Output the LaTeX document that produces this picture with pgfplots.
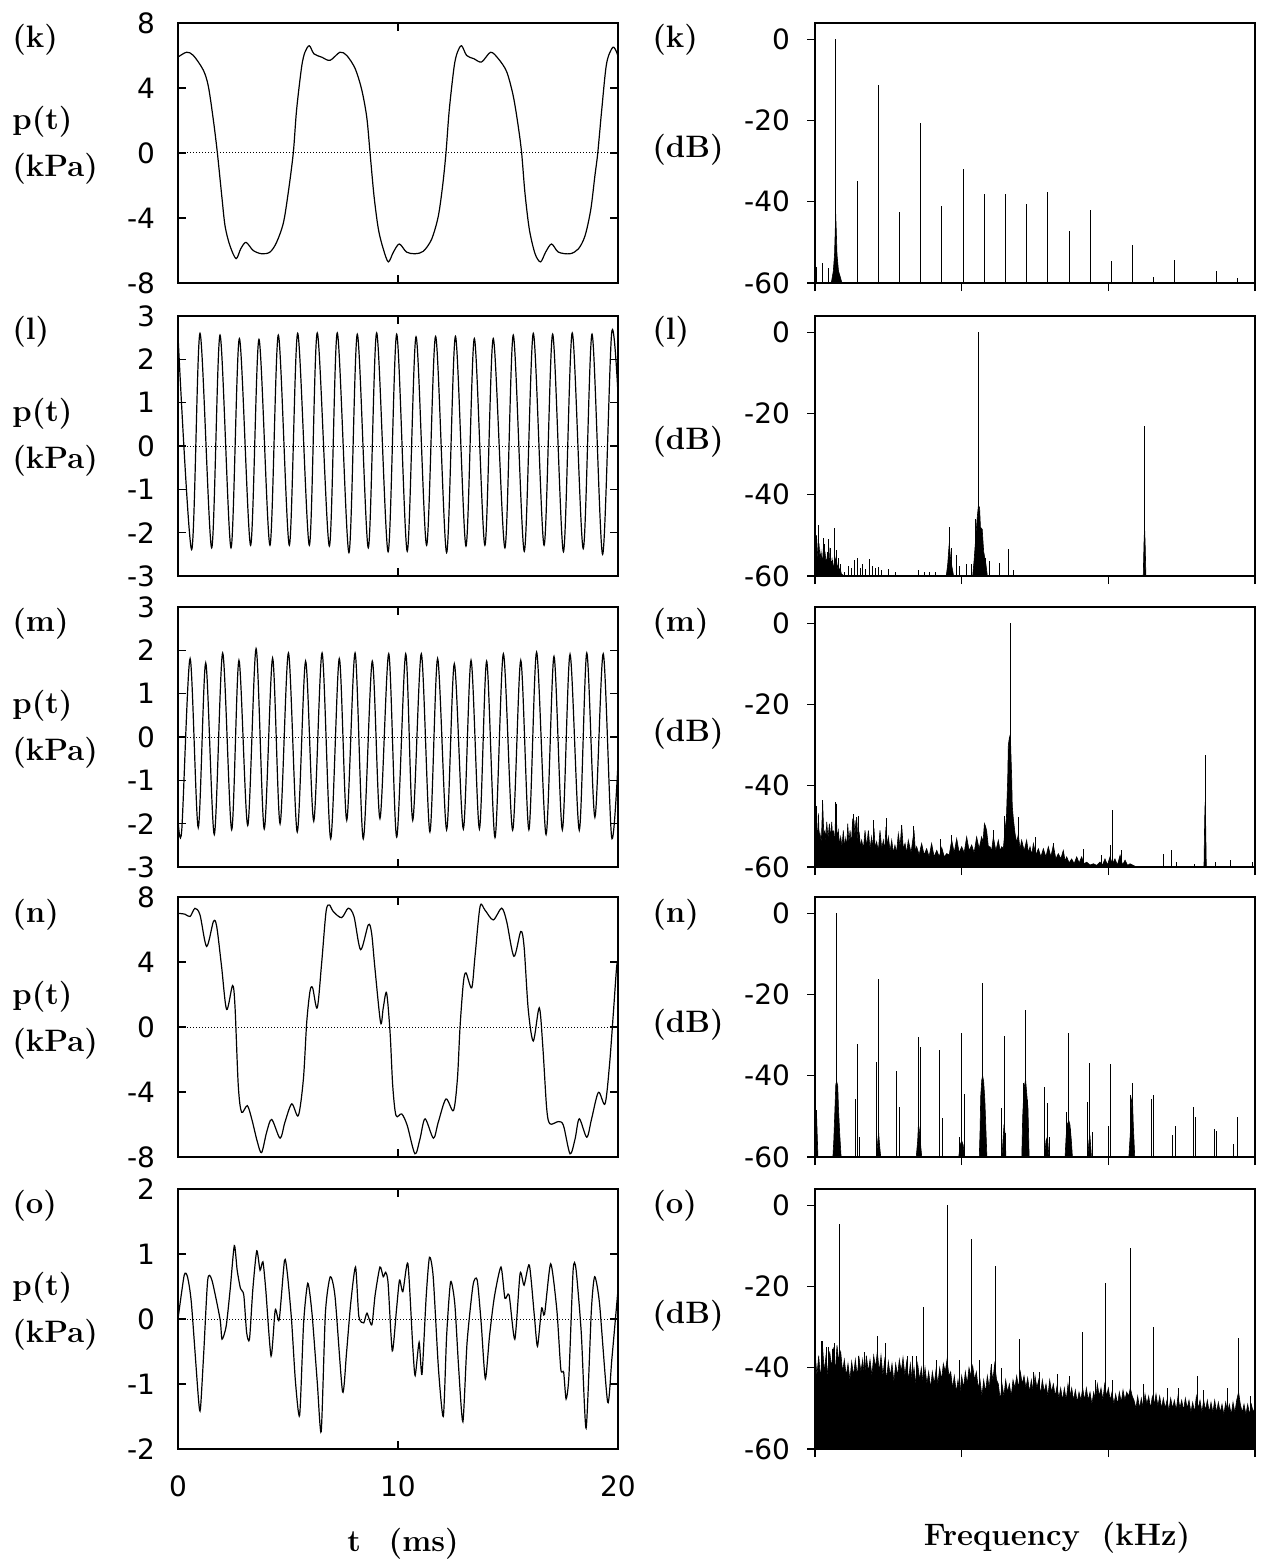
\documentclass[border=0pt]{standalone}
\usepackage{fontspec}
\usepackage{pgfplots}
\pgfplotsset{compat=1.18}
\newfontfamily\dejavu{DejaVu Sans}
\newcommand\tickfont{\dejavu\fontsize{14}{16}\selectfont}
\newcommand\labfont{\bfseries\fontsize{15.5}{18}\selectfont}
\pgfplotsset{
  timeax/.style={anchor=south west, scale only axis, width=220pt, height=130pt,
    xmin=0, xmax=20, xtick={0,10,20}, xticklabels={}, tick align=inside,
    major tick length=4pt, axis line style={line width=0.85pt},
    every tick/.style={black, line width=0.7pt},
    yticklabel style={font=\tickfont}, xticklabel style={font=\tickfont},
    yticklabel shift=8pt, xticklabel shift=10pt, no markers},
  specax/.style={anchor=south west, scale only axis, width=220pt, height=130pt,
    xmin=0, xmax=3, ymin=0, ymax=64, xtick={0,1,2,3}, xticklabels={},
    ytick={0,20,40,60}, yticklabels={-60,-40,-20,0},
    tick align=outside, tick pos=left, major tick length=4pt,
    axis line style={line width=0.85pt}, every tick/.style={black, line width=0.7pt},
    yticklabel style={font=\tickfont}, yticklabel shift=5pt, no markers,
    y filter/.code={\pgfmathparse{##1+60}}},
  wave/.style={black, line width=0.6pt, smooth},
  zero/.style={black, densely dotted, line width=0.5pt},
  comb/.style={black, ycomb, line width=0.5pt},
  thin comb/.style={black, ycomb, line width=0.35pt},
  blk/.style={fill=black, draw=black, line width=0.3pt},
}
\begin{document}
\begin{tikzpicture}
\path (0,0) rectangle (633pt,-781pt);

% ---------------- (k) ----------------
\begin{axis}[timeax, at={(89pt,-141.5pt)}, ymin=-8, ymax=8, ytick={-8,-4,0,4,8}, yticklabels={-8,-4,0,4,8}]
\addplot[zero] coordinates {(0,0) (20,0)};
\addplot[wave] coordinates {(0,5.9)(0.39,6.2)(0.7,6.0)(1.15,5.1)(1.38,4.1)(1.61,2.0)(1.79,0)(1.99,-2.65)(2.14,-4.5)(2.36,-5.7)(2.64,-6.5)(2.85,-5.9)(3.09,-5.5)(3.42,-6.0)(3.8,-6.2)(4.18,-6.1)(4.48,-5.5)(4.79,-4.3)(5.01,-2.45)(5.24,0)(5.39,2.65)(5.62,5.3)(5.77,6.2)(5.97,6.6)(6.18,6.1)(6.53,5.9)(6.91,5.7)(7.36,6.2)(7.67,6.0)(8.05,5.2)(8.35,3.9)(8.58,2.2)(8.73,0)(8.91,-2.65)(9.11,-4.7)(9.33,-5.9)(9.56,-6.7)(9.79,-6.1)(10.06,-5.6)(10.39,-6.1)(10.77,-6.2)(11.15,-6.05)(11.53,-5.3)(11.83,-3.9)(12.03,-2.0)(12.18,0)(12.33,2.65)(12.55,5.3)(12.7,6.2)(12.89,6.6)(13.12,6.0)(13.45,5.8)(13.8,5.6)(14.21,6.2)(14.56,5.8)(14.94,5.0)(15.24,3.5)(15.47,1.6)(15.62,0)(15.77,-2.45)(15.97,-4.7)(16.23,-6.2)(16.48,-6.7)(16.71,-6.1)(16.98,-5.6)(17.29,-6.1)(17.82,-6.2)(18.2,-5.9)(18.5,-5.1)(18.76,-3.5)(18.95,-1.4)(19.08,0)(19.26,2.65)(19.48,5.5)(19.76,6.5)(19.94,6.2)(20,5.9)};
\end{axis}
\begin{axis}[specax, at={(407.5pt,-141.5pt)}]
\addplot[blk] coordinates {(0.111,-60)(0.125,-57)(0.133,-53)(0.138,-47)(0.141,-43)(0.145,-47)(0.15,-53)(0.16,-57)(0.184,-60)} \closedcycle;
\addplot[comb] coordinates {(0.008,-56)(0.054,-55)(0.095,-56.3)(0.141,0)(0.287,-34.8)(0.431,-11.2)(0.577,-42.5)(0.718,-20.5)(0.861,-41.1)(1.010,-32)(1.154,-38)(1.297,-38)(1.443,-40.5)(1.587,-37.7)(1.733,-47.3)(1.877,-42)(2.023,-54.5)(2.166,-50.6)(2.310,-58.5)(2.453,-54.4)(2.735,-57)(2.878,-58.8)};
\end{axis}

% ---------------- (l) ----------------
\begin{axis}[timeax, at={(89pt,-288pt)}, ymin=-3, ymax=3, ytick={-3,-2,-1,0,1,2,3}, yticklabels={-3,-2,-1,0,1,2,3}]
\addplot[zero] coordinates {(0,0) (20,0)};
\addplot[wave] coordinates {(0,2.55)(0.62,-2.39)(1.00,2.60)(1.53,-2.35)(1.91,2.56)(2.41,-2.35)(2.79,2.48)(3.30,-2.29)(3.68,2.46)(4.18,-2.29)(4.56,2.56)(5.06,-2.29)(5.44,2.60)(5.97,-2.29)(6.33,2.61)(6.88,-2.31)(7.24,2.61)(7.77,-2.46)(8.15,2.58)(8.65,-2.35)(9.03,2.61)(9.55,-2.44)(9.94,2.58)(10.42,-2.43)(10.82,2.52)(11.30,-2.29)(11.71,2.53)(12.21,-2.46)(12.61,2.53)(13.09,-2.31)(13.47,2.48)(13.95,-2.29)(14.33,2.48)(14.86,-2.35)(15.24,2.56)(15.74,-2.43)(16.15,2.60)(16.64,-2.29)(17.03,2.58)(17.52,-2.44)(17.92,2.61)(18.42,-2.37)(18.82,2.58)(19.30,-2.50)(19.71,2.60)(20,1.2)};
\end{axis}
\begin{axis}[specax, at={(407.5pt,-288pt)}]
\addplot[blk] coordinates {(0,-53)(0.01,-50)(0.02,-56)(0.027,-52)(0.035,-56)(0.041,-54)(0.05,-57)(0.057,-53)(0.063,-57)(0.068,-54)(0.076,-57)(0.084,-55)(0.09,-57.5)(0.095,-53)(0.1,-57)(0.106,-55)(0.112,-58)(0.117,-56)(0.125,-58.5)(0.135,-55)(0.14,-57.5)(0.144,-55.5)(0.15,-58.5)(0.157,-57)(0.165,-59)(0.171,-58)(0.18,-59.5)(0.2,-60)} \closedcycle;
\addplot[blk] coordinates {(0.895,-60)(0.905,-57)(0.915,-52)(0.925,-56)(0.935,-58)(0.945,-60)} \closedcycle;
\addplot[blk] coordinates {(1.075,-60)(1.085,-56)(1.095,-51)(1.105,-46)(1.113,-43)(1.122,-43)(1.128,-48)(1.14,-48.5)(1.15,-54)(1.165,-57)(1.175,-60)} \closedcycle;
\addplot[blk] coordinates {(2.238,-60)(2.243,-52)(2.247,-48)(2.251,-52)(2.256,-60)} \closedcycle;
\addplot[comb] coordinates {(0.008,-50.6)(0.027,-47.5)(0.041,-55)(0.057,-50.6)(0.068,-52)(0.084,-54)(0.095,-51)(0.106,-53)(0.117,-56)(0.135,-48.2)(0.144,-53.5)(0.157,-55.5)(0.171,-57)(0.198,-59)(0.225,-57.5)(0.247,-58)(0.266,-56)(0.293,-55.5)(0.312,-58)(0.325,-57)(0.347,-58.2)(0.374,-55.8)(0.393,-57.5)(0.415,-58)(0.436,-57.7)(0.455,-58.5)(0.501,-58.3)(0.55,-58.9)(0.705,-58.5)(0.745,-59)(0.78,-59)(0.821,-59)(0.916,-48)(0.93,-53)(0.962,-54.8)(0.984,-57.5)(1.032,-57)(1.065,-57)(1.092,-46)(1.118,0)(1.16,-55.5)(1.187,-56.3)(1.255,-56.7)(1.322,-53.4)(1.35,-58.4)(2.247,-23)};
\end{axis}

% ---------------- (m) ----------------
\begin{axis}[timeax, at={(89pt,-433.5pt)}, ymin=-3, ymax=3, ytick={-3,-2,-1,0,1,2,3}, yticklabels={-3,-2,-1,0,1,2,3}]
\addplot[zero] coordinates {(0,0) (20,0)};
\addplot[wave] coordinates {(0,-1.9)(0.17,-2.15)(0.55,1.81)(0.92,-2.09)(1.26,1.71)(1.65,-2.25)(2.03,1.94)(2.44,-2.14)(2.77,1.77)(3.17,-2.04)(3.55,2.04)(3.92,-2.12)(4.30,1.82)(4.64,-2.0)(5.02,1.94)(5.42,-2.19)(5.80,1.75)(6.17,-1.94)(6.55,1.94)(6.94,-2.35)(7.33,1.81)(7.67,-1.92)(8.05,1.94)(8.42,-2.35)(8.83,1.75)(9.18,-1.88)(9.58,1.92)(9.94,-2.31)(10.35,1.92)(10.67,-1.92)(11.06,1.92)(11.45,-2.19)(11.80,1.81)(12.21,-2.14)(12.56,1.69)(12.97,-2.12)(13.32,1.77)(13.70,-2.12)(14.03,1.75)(14.41,-2.32)(14.79,1.92)(15.21,-2.15)(15.58,1.77)(15.95,-2.14)(16.30,1.96)(16.73,-2.25)(17.09,1.86)(17.47,-2.14)(17.82,1.91)(18.24,-2.15)(18.58,1.94)(18.95,-1.85)(19.33,1.92)(19.71,-2.31)(20,-0.6)};
\end{axis}
\begin{axis}[specax, at={(407.5pt,-433.5pt)}]
\addplot[blk] coordinates {(0,-45.6)(0.006,-52)(0.011,-50.1)(0.017,-53)(0.023,-46.8)(0.029,-53)(0.034,-51.8)(0.043,-54)(0.052,-44)(0.06,-52)(0.068,-51)(0.074,-54)(0.080,-48.9)(0.089,-53)(0.098,-49.3)(0.106,-53)(0.114,-48.9)(0.12,-53)(0.125,-51)(0.134,-54)(0.143,-44.4)(0.151,-53)(0.159,-51)(0.167,-54.5)(0.175,-52.6)(0.184,-55)(0.193,-51)(0.201,-55)(0.209,-53)(0.216,-55.5)(0.223,-49.3)(0.231,-54)(0.239,-51)(0.248,-54.5)(0.257,-48.1)(0.265,-53)(0.273,-48.5)(0.279,-52)(0.284,-47.7)(0.293,-54)(0.302,-51.8)(0.31,-55)(0.318,-53.4)(0.33,-55.5)(0.341,-51)(0.352,-55)(0.364,-51)(0.375,-55.5)(0.386,-52.6)(0.394,-55.5)(0.402,-50.5)(0.411,-55.5)(0.420,-53.8)(0.432,-56)(0.443,-51)(0.455,-55.5)(0.466,-53.4)(0.475,-56)(0.484,-50.1)(0.492,-55)(0.5,-52.6)(0.512,-56)(0.523,-53.4)(0.534,-56.5)(0.545,-54.6)(0.556,-56.5)(0.568,-51.8)(0.58,-55)(0.591,-49.7)(0.602,-55.5)(0.614,-54.2)(0.625,-56.5)(0.636,-53.4)(0.655,-56.5)(0.675,-51)(0.684,-56)(0.693,-55)(0.71,-57)(0.727,-54.2)(0.744,-57)(0.761,-55.5)(0.778,-57.5)(0.795,-54.2)(0.812,-57.5)(0.830,-55.9)(0.847,-57.5)(0.864,-55.2)(0.881,-57.5)(0.898,-56.7)(0.915,-57)(0.932,-53.4)(0.949,-56.5)(0.966,-53)(0.983,-56.5)(1.0,-55)(1.017,-56.5)(1.034,-52.6)(1.051,-56)(1.068,-54.6)(1.085,-56.5)(1.102,-52.6)(1.119,-55.5)(1.136,-52.6)(1.145,-54)(1.155,-49.3)(1.163,-50)(1.170,-51)(1.182,-55)(1.193,-55)(1.204,-56)(1.216,-52.6)(1.233,-56)(1.25,-53.4)(1.262,-56)(1.273,-55)(1.284,-55.5)(1.295,-51)(1.305,-48)(1.314,-38)(1.318,-30)(1.326,-28)(1.334,-30)(1.341,-38)(1.345,-45)(1.352,-48)(1.364,-51.8)(1.375,-54)(1.386,-52)(1.398,-55.5)(1.409,-53.4)(1.426,-56)(1.443,-53.4)(1.455,-56.5)(1.466,-55)(1.478,-57)(1.489,-54.2)(1.506,-57)(1.523,-55.5)(1.54,-57.5)(1.557,-55.5)(1.574,-57.5)(1.591,-55)(1.608,-57.5)(1.625,-54.6)(1.642,-58)(1.659,-56.7)(1.676,-58)(1.693,-55.9)(1.705,-58.5)(1.716,-57.5)(1.733,-59)(1.75,-58)(1.767,-59.2)(1.784,-57.5)(1.801,-59)(1.818,-57.5)(1.835,-59.2)(1.852,-58.8)(1.875,-59.5)(1.898,-59.2)(1.92,-59.6)(1.943,-58.8)(1.96,-59.5)(1.977,-58)(1.994,-59.5)(2.011,-57.5)(2.028,-59.3)(2.045,-58)(2.062,-59.5)(2.080,-57.1)(2.097,-59.5)(2.114,-58.3)(2.131,-59.6)(2.148,-59.2)(2.17,-59.6)(2.193,-60)} \closedcycle;
\addplot[blk] coordinates {(2.652,-60)(2.657,-48)(2.66,-44)(2.663,-48)(2.668,-60)} \closedcycle;
\addplot[thin comb] coordinates {(0.052,-44)(0.143,-44.4)(0.261,-47)(0.295,-47.5)(0.398,-48.5)(0.484,-48)(0.591,-49.7)(0.67,-50)(0.852,-53)(0.932,-52)(1.155,-49.3)(1.216,-51)(1.5,-52.5)(1.625,-54)(1.83,-55.6)(1.955,-57)(2.011,-54.5)(2.086,-55.8)};
\addplot[comb] coordinates {(0.011,-45)(0.052,-43.6)(0.143,-44)(0.284,-47.7)(0.591,-49.7)(1.155,-49.3)(1.295,-47.5)(1.33,0)(1.386,-47.7)(2.03,-46)(2.376,-56.7)(2.432,-55.9)(2.466,-58.8)(2.59,-59.2)(2.66,-32.5)(2.73,-58.8)(2.83,-58.2)(2.98,-58.8)};
\end{axis}

% ---------------- (n) ----------------
\begin{axis}[timeax, at={(89pt,-578.5pt)}, ymin=-8, ymax=8, ytick={-8,-4,0,4,8}, yticklabels={-8,-4,0,4,8}]
\addplot[zero] coordinates {(0,0) (20,0)};
\addplot[wave] coordinates {(0,7.0)(0.32,6.94)(0.55,6.8)(0.77,7.3)(1.0,6.9)(1.30,4.96)(1.61,6.49)(1.76,6.18)(1.98,3.73)(2.21,1.08)(2.48,2.55)(2.59,1.29)(2.74,-3.61)(2.89,-5.24)(3.15,-4.84)(3.35,-5.65)(3.61,-7.08)(3.80,-7.73)(4.03,-6.47)(4.26,-5.69)(4.64,-6.84)(4.86,-5.86)(5.17,-4.73)(5.47,-5.45)(5.70,-3.2)(5.85,0.27)(6.0,2.2)(6.12,2.41)(6.33,1.18)(6.53,3.94)(6.73,7.1)(6.88,7.51)(7.06,7.10)(7.44,6.73)(7.74,7.31)(8.0,6.8)(8.30,4.76)(8.65,6.29)(8.80,5.78)(8.95,3.63)(9.21,0.27)(9.33,1.18)(9.48,2.1)(9.64,-0.35)(9.76,-3.61)(9.91,-5.45)(10.17,-5.35)(10.42,-6.06)(10.77,-7.8)(11.0,-6.88)(11.23,-5.65)(11.61,-6.84)(11.83,-5.86)(12.18,-4.43)(12.52,-5.14)(12.70,-3.2)(12.82,0)(12.97,2.71)(13.09,3.33)(13.35,2.41)(13.50,4.35)(13.73,7.41)(13.95,7.2)(14.33,6.59)(14.71,7.31)(14.94,6.49)(15.27,4.35)(15.58,5.88)(15.73,4.96)(15.92,1.08)(16.15,-0.86)(16.42,1.18)(16.58,-1.16)(16.76,-5.04)(16.91,-5.96)(17.29,-5.82)(17.52,-6.06)(17.82,-7.8)(18.05,-6.88)(18.24,-5.65)(18.58,-6.78)(18.80,-5.65)(19.11,-4.02)(19.41,-4.73)(19.61,-2.39)(19.79,0.88)(19.94,3.73)(20,3.9)};
\end{axis}
\begin{axis}[specax, at={(407.5pt,-578.5pt)}]
\addplot[blk] coordinates {(0,-60)(0.005,-53)(0.011,-50)(0.02,-60)} \closedcycle;
\addplot[blk] coordinates {(0.122,-60)(0.128,-56)(0.135,-49)(0.142,-42)(0.148,-41.5)(0.155,-42.5)(0.16,-48)(0.168,-54)(0.178,-60)} \closedcycle;
\addplot[blk] coordinates {(0.42,-60)(0.428,-56)(0.434,-54)(0.44,-57)(0.448,-60)} \closedcycle;
\addplot[blk] coordinates {(0.69,-60)(0.7,-56)(0.705,-52)(0.71,-53)(0.72,-57)(0.728,-60)} \closedcycle;
\addplot[blk] coordinates {(0.98,-60)(0.99,-57)(1.0,-56)(1.01,-57)(1.02,-60)} \closedcycle;
\addplot[blk] coordinates {(1.12,-60)(1.125,-54)(1.13,-45)(1.137,-41)(1.143,-40)(1.15,-41.5)(1.158,-46)(1.166,-54)(1.172,-60)} \closedcycle;
\addplot[blk] coordinates {(1.275,-60)(1.283,-55)(1.289,-52)(1.295,-54)(1.302,-60)} \closedcycle;
\addplot[blk] coordinates {(1.41,-60)(1.416,-50)(1.425,-43)(1.436,-41)(1.445,-45)(1.452,-48)(1.46,-60)} \closedcycle;
\addplot[blk] coordinates {(1.565,-60)(1.575,-56)(1.585,-55)(1.595,-60)} \closedcycle;
\addplot[blk] coordinates {(1.705,-60)(1.712,-55)(1.72,-52)(1.73,-51)(1.738,-52)(1.748,-56)(1.755,-60)} \closedcycle;
\addplot[blk] coordinates {(1.86,-60)(1.868,-56)(1.875,-55)(1.885,-60)} \closedcycle;
\addplot[blk] coordinates {(2.14,-60)(2.15,-54)(2.158,-46)(2.164,-45)(2.17,-52)(2.18,-60)} \closedcycle;
\addplot[comb] coordinates {(0.011,-48.5)(0.148,0)(0.273,-45.6)(0.291,-32.2)(0.302,-55)(0.416,-36.5)(0.434,-16.3)(0.557,-38.8)(0.575,-47.8)(0.705,-30.5)(0.720,-32.8)(0.852,-33.6)(0.870,-50.4)(0.982,-55)(1.0,-29.5)(1.016,-44.4)(1.143,-17.1)(1.273,-48)(1.289,-30.3)(1.302,-54)(1.420,-41.7)(1.436,-23.9)(1.450,-46)(1.568,-42.7)(1.582,-46.8)(1.598,-55)(1.716,-48.9)(1.730,-29.5)(1.743,-53)(1.857,-46.4)(1.873,-36.9)(1.891,-53.8)(2.0,-52.3)(2.016,-37.1)(2.148,-44.8)(2.164,-41.9)(2.291,-45.6)(2.309,-44.8)(2.436,-54.7)(2.455,-52.4)(2.580,-47.8)(2.595,-50.1)(2.723,-53.2)(2.739,-53.6)(2.852,-56.9)(2.882,-50.1)};
\end{axis}

% ---------------- (o) ----------------
\begin{axis}[timeax, at={(89pt,-724.5pt)}, ymin=-2, ymax=2, ytick={-2,-1,0,1,2}, yticklabels={-2,-1,0,1,2}, xticklabels={0,10,20}]
\addplot[zero] coordinates {(0,0) (20,0)};
\addplot[wave, tension=0.4] coordinates {(0,0)(0.28,0.67)(0.43,0.65)(0.61,0.24)(0.93,-1.23)(1.02,-1.38)(1.17,-0.52)(1.35,0.60)(1.54,0.60)(1.91,0)(2.0,-0.31)(2.19,-0.11)(2.37,0.45)(2.56,1.13)(2.69,0.75)(2.84,0.47)(2.99,0.37)(3.12,-0.21)(3.25,-0.31)(3.40,0.45)(3.58,1.05)(3.73,0.75)(3.86,0.88)(3.99,0.45)(4.23,-0.57)(4.42,0.14)(4.6,-0.01)(4.84,0.90)(4.97,0.70)(5.16,-0.01)(5.34,-0.97)(5.53,-1.48)(5.71,-0.06)(5.90,0.55)(6.09,0.09)(6.33,-0.97)(6.51,-1.73)(6.70,0.09)(6.92,0.65)(7.14,0.34)(7.48,-1.12)(7.66,-0.52)(7.85,0.24)(8.07,0.80)(8.22,0.04)(8.44,-0.06)(8.59,0.09)(8.81,-0.09)(8.96,0.37)(9.18,0.80)(9.33,0.65)(9.44,0.72)(9.55,0.55)(9.74,-0.49)(9.93,0.14)(10.07,0.60)(10.22,0.42)(10.45,0.85)(10.67,-0.42)(10.78,-0.87)(10.96,-0.36)(11.09,-0.85)(11.28,0.34)(11.43,0.95)(11.60,0.65)(11.84,-0.77)(12.06,-1.50)(12.21,-0.26)(12.39,0.57)(12.58,0.24)(12.76,-0.77)(12.95,-1.58)(13.14,-0.36)(13.41,0.52)(13.60,0.60)(13.78,-0.06)(13.97,-0.92)(14.16,-0.26)(14.38,0.34)(14.68,0.80)(14.86,0.32)(15.05,0.37)(15.31,-0.31)(15.55,0.70)(15.73,0.52)(15.97,0.83)(16.20,0.04)(16.34,-0.42)(16.53,0.17)(16.66,0.07)(16.94,0.85)(17.22,0.14)(17.40,-0.77)(17.53,-0.82)(17.64,-1.23)(17.77,-0.87)(17.96,0.75)(18.09,0.77)(18.33,-0.21)(18.55,-1.68)(18.79,0.14)(18.94,0.65)(19.16,0.24)(19.53,-1.28)(19.72,-0.62)(20,0.45)};
\end{axis}
\begin{axis}[specax, at={(407.5pt,-724.5pt)}]
\addplot[blk] coordinates {(0.000,-36)(0.013,-42)(0.025,-37)(0.038,-43)(0.05,-34)(0.063,-41)(0.075,-37)(0.088,-42)(0.1,-36)(0.113,-40)(0.125,-35)(0.138,-41)(0.15,-34.5)(0.16,-38)(0.175,-36)(0.188,-41)(0.2,-38)(0.213,-42)(0.225,-39)(0.238,-43)(0.25,-38.5)(0.263,-42)(0.275,-38)(0.288,-42)(0.3,-37.5)(0.313,-41)(0.325,-38)(0.338,-42.5)(0.35,-37)(0.363,-41)(0.375,-38)(0.388,-42)(0.4,-37)(0.413,-40)(0.425,-36)(0.438,-41)(0.45,-37)(0.463,-42)(0.475,-38)(0.488,-43)(0.5,-38.5)(0.513,-42)(0.525,-39)(0.538,-43.5)(0.55,-39)(0.563,-42)(0.575,-38)(0.588,-41)(0.6,-37.5)(0.613,-42)(0.625,-38.5)(0.638,-43)(0.65,-39)(0.663,-43.5)(0.675,-40)(0.688,-44)(0.7,-39)(0.713,-43)(0.725,-40)(0.738,-44)(0.75,-40)(0.763,-44)(0.775,-41)(0.788,-45)(0.8,-41)(0.813,-44)(0.825,-40.5)(0.838,-44)(0.85,-40)(0.863,-43)(0.875,-39)(0.888,-41)(0.9,-38)(0.913,-42)(0.925,-41)(0.938,-45)(0.95,-42)(0.963,-46)(0.975,-43)(0.988,-46.5)(1.0,-42)(1.013,-45)(1.025,-41)(1.038,-44)(1.05,-40)(1.063,-42)(1.075,-39.5)(1.088,-43)(1.1,-41)(1.113,-45)(1.125,-43)(1.138,-47)(1.15,-43)(1.163,-46)(1.175,-42)(1.188,-45)(1.2,-40)(1.213,-43)(1.225,-39)(1.238,-43)(1.25,-44)(1.263,-48)(1.275,-44)(1.288,-47)(1.3,-43)(1.313,-46)(1.325,-44)(1.338,-47)(1.35,-43)(1.363,-45)(1.375,-42)(1.388,-45)(1.4,-41)(1.413,-44)(1.425,-42)(1.438,-45)(1.45,-42.5)(1.463,-46)(1.475,-43)(1.488,-46)(1.5,-42)(1.513,-45)(1.525,-43)(1.538,-46.5)(1.55,-43)(1.563,-46)(1.575,-44)(1.588,-47)(1.6,-43)(1.613,-46)(1.625,-44)(1.638,-47)(1.65,-44.5)(1.663,-47.5)(1.675,-45)(1.688,-48)(1.7,-45)(1.713,-48)(1.725,-44)(1.738,-47)(1.75,-45)(1.763,-48)(1.775,-45.5)(1.788,-48.5)(1.8,-46)(1.813,-48)(1.825,-45)(1.838,-48)(1.85,-45)(1.863,-48)(1.875,-46)(1.888,-49)(1.9,-46)(1.913,-48)(1.925,-44)(1.938,-47)(1.95,-45)(1.963,-48)(1.975,-44)(1.988,-47)(2.0,-45)(2.013,-48)(2.025,-46)(2.038,-49)(2.05,-46.5)(2.063,-49)(2.075,-46)(2.088,-48.5)(2.1,-45.5)(2.113,-48)(2.125,-46)(2.138,-47)(2.15,-45)(2.163,-47)(2.175,-48)(2.188,-50)(2.2,-47)(2.213,-50)(2.225,-47.5)(2.238,-50)(2.25,-46.5)(2.263,-49)(2.275,-47)(2.288,-50)(2.3,-47)(2.313,-49)(2.325,-46.5)(2.338,-49.5)(2.35,-47)(2.363,-50)(2.375,-47.5)(2.388,-50)(2.4,-48)(2.413,-50.5)(2.425,-47.5)(2.438,-50)(2.45,-48)(2.463,-50.5)(2.475,-47)(2.488,-50)(2.5,-48)(2.513,-50.5)(2.525,-47.5)(2.538,-50)(2.55,-48)(2.563,-51)(2.575,-48.5)(2.588,-51)(2.6,-47)(2.613,-50)(2.625,-48)(2.638,-51)(2.65,-48)(2.663,-50.5)(2.675,-48)(2.688,-51)(2.7,-48.5)(2.713,-51)(2.725,-48)(2.738,-51)(2.75,-48.5)(2.763,-51)(2.775,-49)(2.788,-51.5)(2.8,-48.5)(2.813,-51)(2.825,-49)(2.838,-51.5)(2.85,-48.5)(2.863,-51)(2.875,-48)(2.888,-46)(2.9,-49)(2.913,-51)(2.925,-49)(2.938,-51.5)(2.95,-49)(2.963,-51.5)(2.975,-49)(2.988,-51)(3.0,-49.5)} \closedcycle;
\addplot[thin comb] coordinates {(0.049,-33.5)(0.09,-35)(0.13,-34)(0.294,-37)(0.335,-36)(0.661,-37)(0.688,-37)(0.824,-38)(0.987,-38)(1.123,-38)(1.205,-39)(1.273,-40)(1.49,-41)(1.53,-41)(1.65,-41.5)(1.735,-42)(1.91,-43)(2.03,-43)(2.24,-44)(2.4,-45)(2.48,-45)(2.65,-45.5)(2.81,-45)(2.97,-47)};
\addplot[comb] coordinates {(0.045,-33.5)(0.08,-35)(0.12,-35.5)(0.166,-4.5)(0.424,-32.3)(0.484,-34)(0.63,-37)(0.742,-25)(0.906,0)(1.069,-8.2)(1.232,-15)(1.395,-33)(1.822,-31.3)(1.98,-19.2)(2.148,-10.6)(2.306,-30)(2.611,-42)(2.89,-32.7)};
\end{axis}

% ---------------- labels ----------------
\foreach \lab/\yy in {k/-20, l/-166, m/-312, n/-457.5, o/-603}{
  \node[anchor=west, inner sep=0pt, font=\labfont] at (6pt,\yy pt) {(\lab)};
  \node[anchor=west, inner sep=0pt, font=\labfont] at (326pt,\yy pt) {(\lab)};
}
\foreach \yy in {-61, -207, -353, -498.5, -644}{
  \node[anchor=west, inner sep=0pt, font=\labfont] at (6pt,\yy pt) {p(t)};
}
\foreach \yy in {-84.5, -230.5, -376.5, -522, -667.5}{
  \node[anchor=west, inner sep=0pt, font=\labfont] at (6pt,\yy pt) {(kPa)};
}
\foreach \yy in {-75, -221, -367, -512.5, -658}{
  \node[anchor=west, inner sep=0pt, font=\labfont] at (326pt,\yy pt) {(dB)};
}
\node[inner sep=0pt, font=\labfont] at (201.5pt,-772pt) {t\hspace{0.9em}(ms)};
\node[inner sep=0pt, font=\labfont] at (528.5pt,-769pt) {Frequency\hspace{0.7em}(kHz)};
\end{tikzpicture}
\end{document}
